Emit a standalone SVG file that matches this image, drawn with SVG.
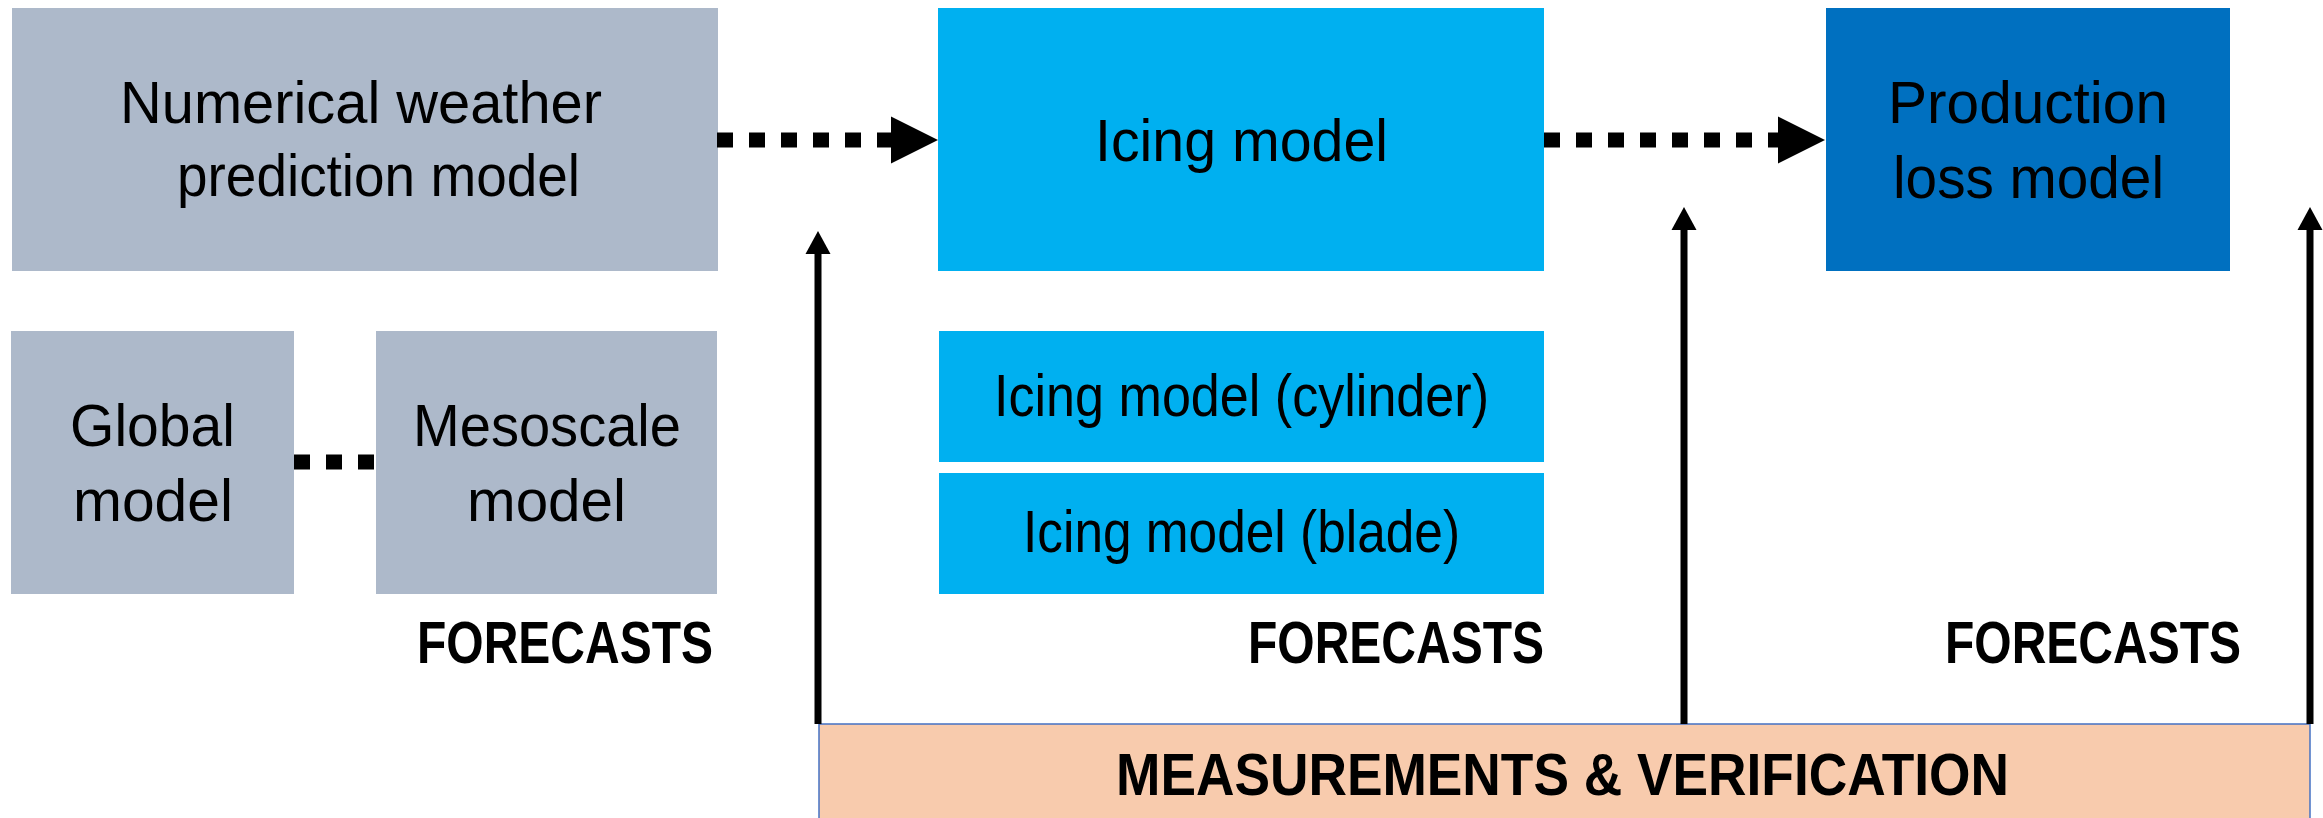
<svg xmlns="http://www.w3.org/2000/svg" width="2323" height="818" viewBox="0 0 2323 818">
  <style>
    .nwp { fill: #ADB9CA; }
    .ice { fill: #00B0F0; }
    .loss { fill: #0070C0; }
    .meas { fill: #F8CBAD; stroke: #4472C4; stroke-width: 1.5; }
    .lbl { font-family: "Liberation Sans", Arial, sans-serif; font-size: 60px; fill: #000; }
    .bold { font-family: "Liberation Sans", Arial, sans-serif; font-size: 59px; font-weight: bold; fill: #000; }
    .dots { fill: none; stroke: #000; stroke-width: 15; stroke-dasharray: 16 16; }
    .thin { fill: none; stroke: #000; stroke-width: 7; }
  </style>
  <defs>
    <marker id="fatHead" markerUnits="userSpaceOnUse" markerWidth="48" markerHeight="48" refX="0" refY="23.5" orient="auto" overflow="visible">
      <path d="M0,0 L47,23.5 L0,47 Z" fill="#000"/>
    </marker>
    <marker id="thinHead" markerUnits="userSpaceOnUse" markerWidth="24" markerHeight="26" refX="0" refY="12.5" orient="auto" overflow="visible">
      <path d="M0,0 L23,12.5 L0,25 Z" fill="#000"/>
    </marker>
  </defs>

  <rect width="2323" height="818" fill="#fff"/>

  <!-- weather model chain -->
  <g id="nwp">
    <rect class="nwp" x="12" y="8" width="706" height="263"/>
    <text class="lbl" x="120" y="123" textLength="482" lengthAdjust="spacingAndGlyphs">Numerical weather</text>
    <text class="lbl" x="177" y="196" textLength="403" lengthAdjust="spacingAndGlyphs">prediction model</text>
  </g>
  <g id="global">
    <rect class="nwp" x="11" y="331" width="283" height="263"/>
    <text class="lbl" x="70" y="446" textLength="165" lengthAdjust="spacingAndGlyphs">Global</text>
    <text class="lbl" x="73" y="521" textLength="160" lengthAdjust="spacingAndGlyphs">model</text>
  </g>
  <g id="mesoscale">
    <rect class="nwp" x="376" y="331" width="341" height="263"/>
    <text class="lbl" x="413" y="446" textLength="268" lengthAdjust="spacingAndGlyphs">Mesoscale</text>
    <text class="lbl" x="467" y="521" textLength="159" lengthAdjust="spacingAndGlyphs">model</text>
  </g>
  <g id="forecasts-nwp">
    <text class="bold" x="417" y="663" textLength="296" lengthAdjust="spacingAndGlyphs">FORECASTS</text>
  </g>

  <!-- icing models -->
  <g id="icing">
    <rect class="ice" x="938" y="8" width="606" height="263"/>
    <text class="lbl" x="1095" y="161" textLength="293" lengthAdjust="spacingAndGlyphs">Icing model</text>
  </g>
  <g id="icing-cylinder">
    <rect class="ice" x="939" y="331" width="605" height="131"/>
    <text class="lbl" x="994" y="416" textLength="495" lengthAdjust="spacingAndGlyphs">Icing model (cylinder)</text>
  </g>
  <g id="icing-blade">
    <rect class="ice" x="939" y="473" width="605" height="121"/>
    <text class="lbl" x="1023" y="552" textLength="437" lengthAdjust="spacingAndGlyphs">Icing model (blade)</text>
  </g>
  <g id="forecasts-icing">
    <text class="bold" x="1248" y="663" textLength="296" lengthAdjust="spacingAndGlyphs">FORECASTS</text>
  </g>

  <!-- production loss -->
  <g id="production-loss">
    <rect class="loss" x="1826" y="8" width="404" height="263"/>
    <text class="lbl" x="1888" y="123" textLength="280" lengthAdjust="spacingAndGlyphs">Production</text>
    <text class="lbl" x="1893" y="198" textLength="271" lengthAdjust="spacingAndGlyphs">loss model</text>
  </g>
  <g id="forecasts-loss">
    <text class="bold" x="1945" y="663" textLength="296" lengthAdjust="spacingAndGlyphs">FORECASTS</text>
  </g>

  <!-- measurements bar -->
  <g id="measurements">
    <rect class="meas" x="819" y="724" width="1491" height="110"/>
    <text class="bold" x="1116" y="795" textLength="893" lengthAdjust="spacingAndGlyphs">MEASUREMENTS &amp; VERIFICATION</text>
  </g>

  <!-- connectors -->
  <g id="connectors">
    <path class="dots" d="M717,140 H891" marker-end="url(#fatHead)"/>
    <path class="dots" d="M1544,140 H1778" marker-end="url(#fatHead)"/>
    <path class="dots" d="M294,462 H376"/>
    <path class="thin" d="M818,724 V254" marker-end="url(#thinHead)"/>
    <path class="thin" d="M1684,724 V230" marker-end="url(#thinHead)"/>
    <path class="thin" d="M2310,724 V230" marker-end="url(#thinHead)"/>
  </g>
</svg>
